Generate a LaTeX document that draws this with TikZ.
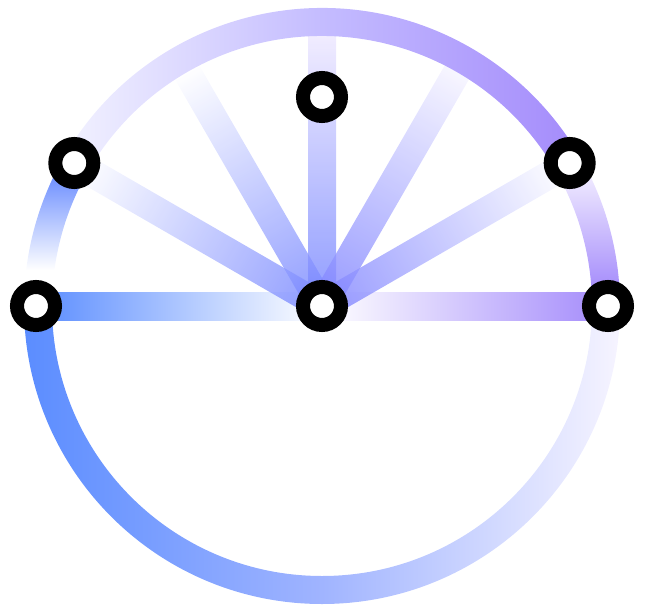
\documentclass[tikz,border=0pt]{standalone}
\definecolor{cblue}{HTML}{5B8DFF}
\definecolor{cbluemid}{HTML}{A0B4FF}
\definecolor{cpale}{HTML}{F6F4FF}
\definecolor{cpurple}{HTML}{A48BFB}
\definecolor{ctopmid}{HTML}{C4BCFF}
\definecolor{ctopleft}{HTML}{F2F2FF}
\definecolor{cspoke}{HTML}{7383FF}
\definecolor{cspokeB}{HTML}{7C80FF}
\definecolor{clav}{HTML}{EEE8FF}
\definecolor{cleftarc}{HTML}{5F84FF}
\pgfdeclareverticalshading{leftarcshade}{100bp}{color(0bp)=(white); color(37bp)=(white); color(72bp)=(cleftarc); color(100bp)=(cleftarc)}
\pgfdeclareverticalshading{rightarcshade}{100bp}{color(0bp)=(cpurple); color(30bp)=(cpurple); color(68bp)=(clav); color(100bp)=(clav)}
\begin{document}
\begin{tikzpicture}[x=1pt,y=1pt,
  ring/.style={circle, draw=black, line width=14pt, fill=white, minimum size=38pt, inner sep=0pt},
  spokeshade/.style={fill opacity=0.8}]
\useasboundingbox (-322,-299) rectangle (325,306);
\def\ro{298}
\def\ri{270}
\def\hw{14}
% horizontal spokes
\shade[left color=cblue, right color=white] (-286,-\hw) rectangle (0,\hw);
\shade[left color=white, right color=cpurple] (0,-\hw) rectangle (286,\hw);
% slanted spokes
\foreach \a/\c/\e/\len in {150/cspoke/white/280, 120/cspoke/white/272, 90/cspoke/clav/272, 60/cspokeB/cpale/272, 30/cspokeB/white/280}{
  \begin{scope}[transform canvas={rotate=\a}]
    \shade[spokeshade, left color=\c, right color=\e] (0,-\hw) rectangle (\len,\hw);
  \end{scope}
}
% arcs
\shade[left color=cblue, right color=cpale, middle color=cbluemid]
  (180:\ro) arc[start angle=180, end angle=360, radius=\ro] -- (0:\ri)
  arc[start angle=360, end angle=180, radius=\ri] -- cycle;
\shade[left color=ctopleft, right color=cpurple, middle color=ctopmid]
  (150:\ro) arc[start angle=150, end angle=30, radius=\ro] -- (30:\ri)
  arc[start angle=30, end angle=150, radius=\ri] -- cycle;
\shade[shading=leftarcshade]
  (180:\ro) arc[start angle=180, end angle=150, radius=\ro] -- (150:\ri)
  arc[start angle=150, end angle=180, radius=\ri] -- cycle;
\shade[shading=rightarcshade]
  (0:\ro) arc[start angle=0, end angle=30, radius=\ro] -- (30:\ri)
  arc[start angle=30, end angle=0, radius=\ri] -- cycle;
% nodes
\node[ring] (c) at (0,0) {};
\node[ring] (l) at (-286,0) {};
\node[ring] (r) at (286,0) {};
\node[ring] (tl) at (150:286) {};
\node[ring] (tr) at (30:286) {};
\node[ring] (t) at (0,209) {};
\end{tikzpicture}
\end{document}
